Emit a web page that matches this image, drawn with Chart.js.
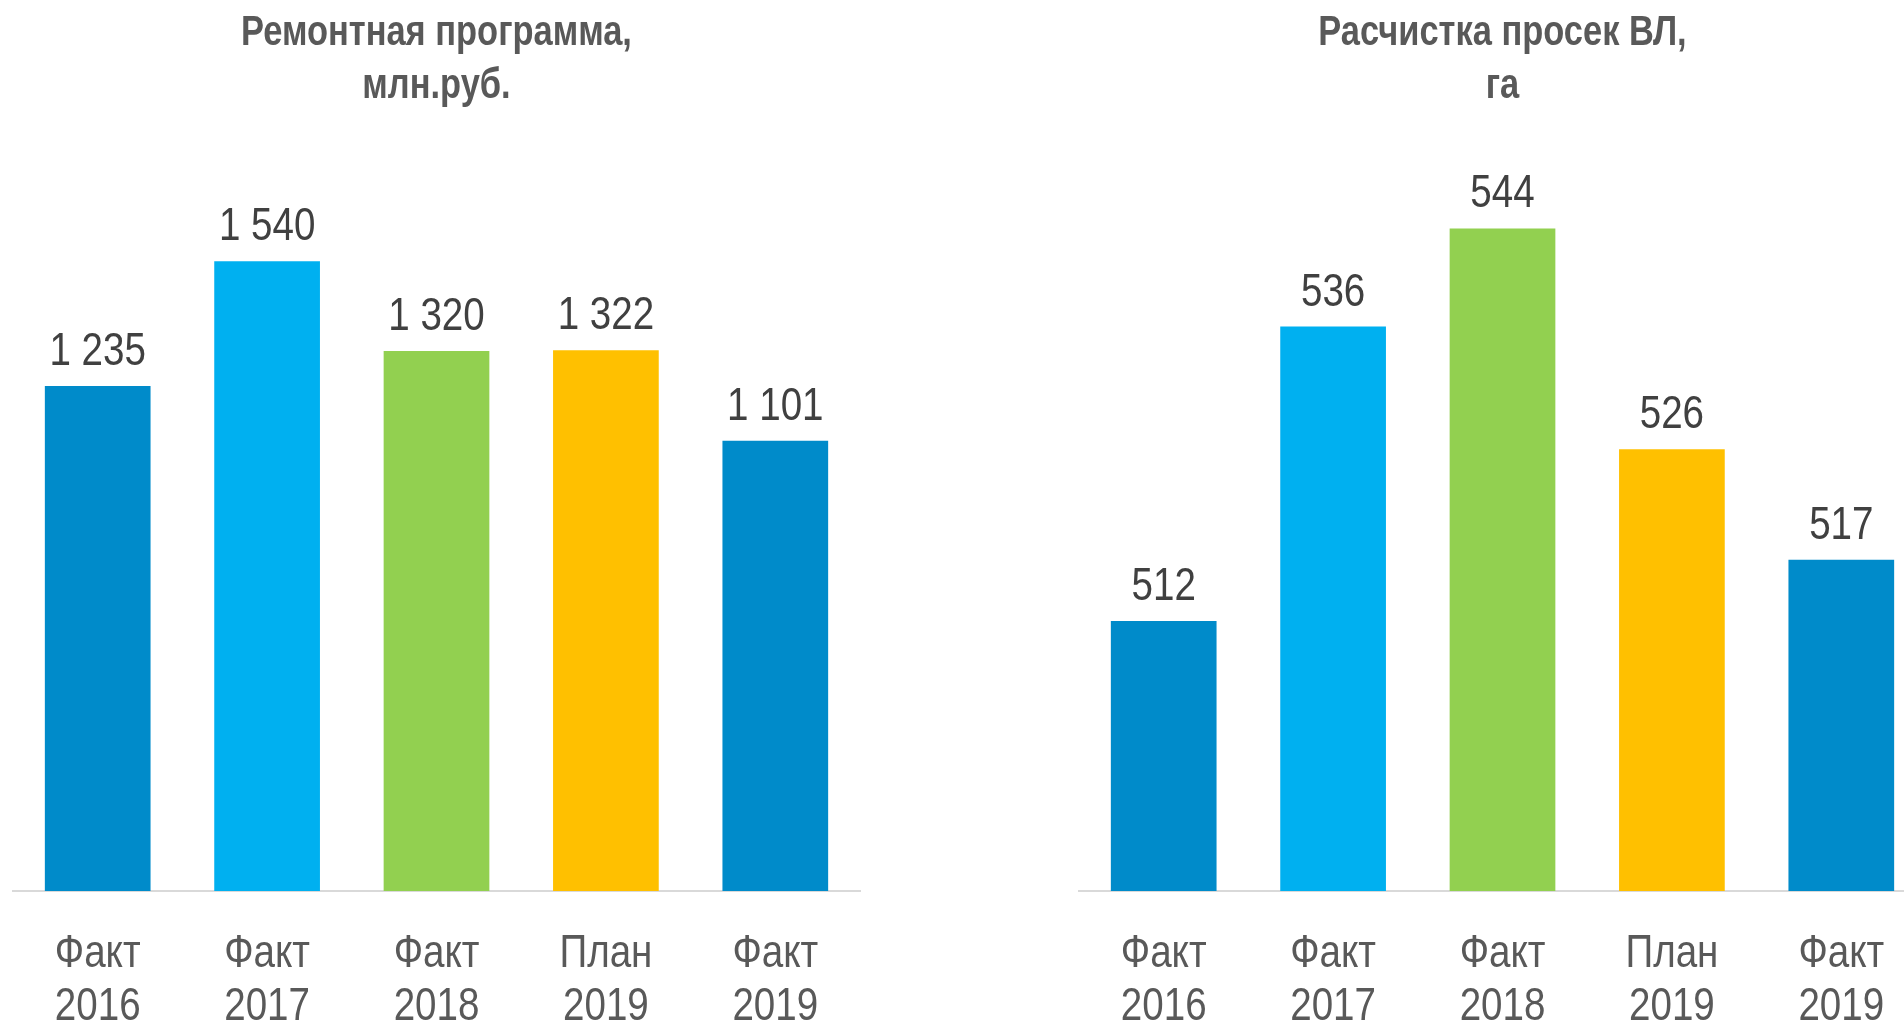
<!DOCTYPE html>
<html>
<head>
<meta charset="utf-8">
<script src="https://cdn.jsdelivr.net/npm/chart.js@4/dist/chart.umd.min.js"></script>
<style>
  html, body { margin: 0; padding: 0; background: #fff; overflow: hidden; width: 1904px; height: 1030px; }
  canvas { position: absolute; top: 0; }
  #left { left: 0; }
  #right { left: 1066px; }
</style>
</head>
<body>
<canvas id="left" width="880" height="1030"></canvas>
<canvas id="right" width="880" height="1030"></canvas>
<script>
const categories = [['Факт', '2016'], ['Факт', '2017'], ['Факт', '2018'], ['План', '2019'], ['Факт', '2019']];
const repairValues = [1235, 1540, 1320, 1322, 1101];
const clearingValues = [512, 536, 544, 526, 517];
const barColors = ['#008BCA', '#00B0F0', '#92D050', '#FFC000', '#008BCA'];

// no narrow font installed, so Liberation Sans gets squeezed horizontally
const FONT = "'Liberation Sans', Arial, sans-serif";
const NARROW = 0.82;

function fmt(v) {
    return String(v).replace(/\B(?=(\d{3})+(?!\d))/g, ' ');
}

function narrowText(ctx, text, x, y) {
    ctx.save();
    ctx.translate(x, y);
    ctx.scale(NARROW, 1);
    ctx.fillText(text, 0, 0);
    ctx.restore();
}

// title, category labels and values above bars
const texts = {
    id: 'texts',
    afterDraw(chart, args, opts) {
        const ctx = chart.ctx;
        const area = chart.chartArea;
        const xScale = chart.scales.x;
        const meta = chart.getDatasetMeta(0);
        const cx = (area.left + area.right) / 2;
        ctx.save();
        ctx.textAlign = 'center';
        ctx.textBaseline = 'alphabetic';

        ctx.font = 'bold 42px ' + FONT;
        ctx.fillStyle = '#595959';
        opts.title.forEach(function(line, i) {
            narrowText(ctx, line, cx, 45 + i * 52.5);
        });

        ctx.font = '47px ' + FONT;
        chart.data.labels.forEach(function(lines, i) {
            const x = xScale.getPixelForValue(i);
            lines.forEach(function(line, j) {
                narrowText(ctx, line, x, area.bottom + 76 + j * 53.3);
            });
        });

        ctx.fillStyle = '#404040';
        meta.data.forEach(function(bar, i) {
            narrowText(ctx, fmt(chart.data.datasets[0].data[i]), bar.x, bar.y - 21);
        });
        ctx.restore();
    }
};

function makeChart(id, title, values, yMin, yMax) {
    const ctx = document.getElementById(id).getContext('2d');
    return new Chart(ctx, {
        type: 'bar',
        data: {
            labels: categories,
            datasets: [{
                data: values,
                backgroundColor: barColors,
                borderWidth: 0,
                barPercentage: 0.624,
                categoryPercentage: 1
            }]
        },
        plugins: [texts],
        options: {
            responsive: false,
            animation: false,
            layout: { padding: { left: 13, right: 20, top: 154.8, bottom: 0 } },
            plugins: {
                legend: { display: false },
                tooltip: { enabled: false },
                title: { display: false },
                texts: { title: title }
            },
            scales: {
                x: {
                    grid: { display: false, drawTicks: false },
                    border: { display: true, color: '#D9D9D9', width: 2 },
                    ticks: { display: false },
                    afterFit: function(scale) { scale.height = 139; }
                },
                y: {
                    display: false,
                    min: yMin,
                    max: yMax
                }
            }
        }
    });
}

makeChart('left', ['Ремонтная программа,', 'млн.руб.'], repairValues, 0, 1800);
makeChart('right', ['Расчистка просек ВЛ,', 'га'], clearingValues, 490, 550);
</script>
</body>
</html>
